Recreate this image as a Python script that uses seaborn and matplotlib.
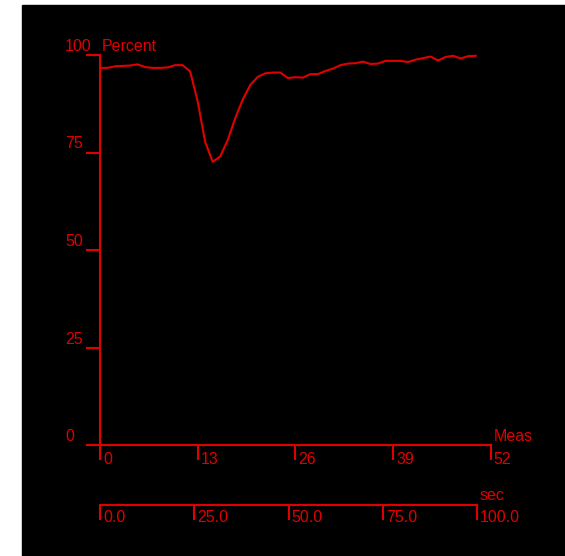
import matplotlib
matplotlib.use("Agg")
import matplotlib.pyplot as plt
import matplotlib.transforms as mtrans
from matplotlib.patches import Rectangle
import seaborn as sns
import pandas as pd

# ---- data ----
meas = list(range(0, 51))
percent = [96.7, 96.7, 97.1, 97.2, 97.3, 97.6, 96.9, 96.7, 96.7, 96.8,
           97.4, 97.4, 95.8, 88.1, 77.7, 72.6, 74.0, 78.2, 83.8, 88.6,
           92.3, 94.4, 95.3, 95.5, 95.5, 94.1, 94.3, 94.2, 95.1, 95.1,
           95.9, 96.5, 97.4, 97.8, 97.9, 98.3, 97.7, 97.8, 98.5, 98.5,
           98.5, 98.2, 98.8, 99.2, 99.6, 98.6, 99.5, 99.8, 99.1, 99.7, 99.8]
y_ticks = [0, 25, 50, 75, 100]
y_tick_labels = ["0", "25", "50", "75", "100"]
x_ticks = [0, 13, 26, 39, 52]
x_tick_labels = ["0", "13", "26", "39", "52"]
sec_ticks = [0, 25, 50, 75, 100]
sec_tick_labels = ["0.0", "25.0", "50.0", "75.0", "100.0"]
y_label = "Percent"
x_label = "Meas"
sec_label = "sec"

RED = "#e00000"
FONT = "Liberation Sans"
FS = 11.5
W, H = 565, 556

fig = plt.figure(figsize=(W / 100, H / 100), dpi=100, facecolor="white")
fig.patches.append(Rectangle((22 / W, 0), 1 - 22 / W, (H - 5) / H,
                             transform=fig.transFigure, color="black", zorder=-10))

ax = fig.add_axes([100 / W, (H - 445) / H, (490.7 - 100) / W, (445 - 55) / H])
ax.set_facecolor("none")
df = pd.DataFrame({"meas": meas, "percent": percent})
sns.lineplot(data=df, x="meas", y="percent", ax=ax, color=RED, linewidth=1.5,
             clip_on=False)
ax.set_xlim(0, 52)
ax.set_ylim(0, 100)
ax.set_xlabel("")
ax.set_ylabel("")
for s in ["top", "right"]:
    ax.spines[s].set_visible(False)
for s in ["left", "bottom"]:
    ax.spines[s].set_color(RED)
    ax.spines[s].set_linewidth(1.5)
ax.set_xticks(x_ticks)
ax.set_yticks(y_ticks)
ax.tick_params(axis="x", direction="out", length=15 * 0.72, width=1.5,
               color=RED, labelbottom=False)
ax.tick_params(axis="y", direction="out", length=14 * 0.72, width=1.5,
               color=RED, labelleft=False)
ax.grid(False)

txt = dict(color=RED, fontsize=FS, family=FONT)

def off(trans, dx, dy):
    return mtrans.offset_copy(trans, fig=fig, x=dx, y=dy, units="dots")

ytrans = ax.get_yaxis_transform()
for v, lab in zip(y_ticks, y_tick_labels):
    ax.text(0, v, lab, transform=off(ytrans, -35, 4), ha="left", va="baseline", **txt)
ax.text(0, 100, y_label, transform=off(ytrans, 2, 4), ha="left", va="baseline", **txt)

xtrans = ax.get_xaxis_transform()
for v, lab in zip(x_ticks, x_tick_labels):
    ax.text(v, 0, lab, transform=off(xtrans, 3, -19), ha="left", va="baseline", **txt)
ax.text(52, 0, x_label, transform=off(xtrans, 3, 4), ha="left", va="baseline", **txt)

# seconds axis
ax2 = fig.add_axes([100 / W, (H - 505) / H, (477 - 100) / W, 0.0001])
ax2.set_facecolor("none")
ax2.set_xlim(0, 100)
ax2.set_ylim(0, 1)
for s in ["top", "right", "left"]:
    ax2.spines[s].set_visible(False)
ax2.spines["bottom"].set_color(RED)
ax2.spines["bottom"].set_linewidth(1.5)
ax2.set_xticks(sec_ticks)
ax2.set_yticks([])
ax2.tick_params(axis="x", direction="out", length=15 * 0.72, width=1.5,
                color=RED, labelbottom=False)
x2trans = ax2.get_xaxis_transform()
for v, lab in zip(sec_ticks, sec_tick_labels):
    ax2.text(v, 0, lab, transform=off(x2trans, 3, -16.5), ha="left", va="baseline", **txt)
ax2.text(100, 0, sec_label, transform=off(x2trans, 3, 5), ha="left", va="baseline", **txt)

fig.savefig("out.png", dpi=100, facecolor="white")
